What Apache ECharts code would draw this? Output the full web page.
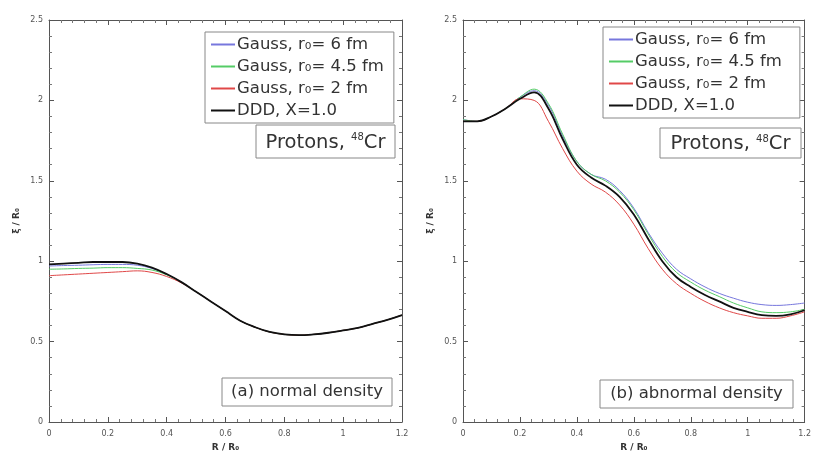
<!DOCTYPE html>
<html>
<head>
<meta charset="utf-8">
<script src="https://cdn.jsdelivr.net/npm/echarts@6/dist/echarts.min.js"></script>
<style>
  html, body { margin: 0; padding: 0; background: #fff; }
  #chart { width: 814px; height: 459px; }
</style>
</head>
<body>
<div id="chart"></div>
<script>
// x grid, R / R0
var xs = [0, 0.05, 0.1, 0.15, 0.2, 0.25, 0.3, 0.35, 0.4, 0.45, 0.5, 0.55, 0.6,
  0.65, 0.7, 0.75, 0.8, 0.85, 0.9, 0.95, 1.0, 1.05, 1.1, 1.15, 1.2]

// (a) normal density
var aGauss6 = [0.97, 0.973, 0.975, 0.978, 0.98, 0.98, 0.975, 0.955, 0.92, 0.87, 0.81, 0.75, 0.69,
  0.63, 0.59, 0.56, 0.545, 0.54, 0.545, 0.555, 0.57, 0.585, 0.61, 0.635, 0.665]
var aGauss45 = [0.95, 0.952, 0.955, 0.957, 0.96, 0.96, 0.955, 0.945, 0.915, 0.87, 0.81, 0.75, 0.69,
  0.63, 0.59, 0.56, 0.545, 0.54, 0.545, 0.555, 0.57, 0.585, 0.61, 0.635, 0.665]
var aGauss2 = [0.91, 0.915, 0.92, 0.925, 0.93, 0.935, 0.94, 0.93, 0.905, 0.865, 0.81, 0.75, 0.69,
  0.63, 0.59, 0.56, 0.545, 0.54, 0.545, 0.555, 0.57, 0.585, 0.61, 0.635, 0.665]
var aDDD = [0.98, 0.985, 0.99, 0.995, 0.995, 0.995, 0.985, 0.96, 0.92, 0.87, 0.81, 0.75, 0.69,
  0.63, 0.59, 0.56, 0.545, 0.54, 0.545, 0.555, 0.57, 0.585, 0.61, 0.635, 0.665]

// (b) abnormal density
var bGauss6 = [1.88, 1.87, 1.9, 1.95, 2.02, 2.06, 1.97, 1.78, 1.62, 1.54, 1.51, 1.44, 1.33,
  1.18, 1.05, 0.95, 0.89, 0.84, 0.8, 0.77, 0.745, 0.73, 0.725, 0.73, 0.74]
var bGauss45 = [1.88, 1.87, 1.9, 1.95, 2.02, 2.07, 1.98, 1.79, 1.62, 1.54, 1.5, 1.43, 1.32,
  1.17, 1.03, 0.93, 0.87, 0.82, 0.78, 0.74, 0.71, 0.685, 0.68, 0.685, 0.7]
var bGauss2 = [1.87, 1.87, 1.9, 1.95, 2.01, 2.0, 1.87, 1.7, 1.56, 1.48, 1.43, 1.35, 1.23,
  1.08, 0.95, 0.86, 0.8, 0.75, 0.71, 0.68, 0.66, 0.645, 0.645, 0.66, 0.685]
var bDDD = [1.87, 1.87, 1.9, 1.95, 2.01, 2.05, 1.95, 1.76, 1.6, 1.52, 1.47, 1.4, 1.29,
  1.14, 1.0, 0.9, 0.84, 0.79, 0.75, 0.71, 0.685, 0.665, 0.66, 0.67, 0.695]

var names = ['Gauss, r\u2080= 6 fm', 'Gauss, r\u2080= 4.5 fm', 'Gauss, r\u2080= 2 fm', 'DDD, X=1.0']
var colors = ['#7777dd', '#55cc66', '#e04848', '#111111']
var widths = [1, 1, 1, 1.8]
var xTicks = ['0', '0.2', '0.4', '0.6', '0.8', '1', '1.2']
var yTicks = ['0', '0.5', '1', '1.5', '2', '2.5']
var panelTitles = ['(a) normal density', '(b) abnormal density']

var font = 'DejaVu Sans'

function pairs(ys) {
  return xs.map(function (x, i) { return [x, ys[i]] })
}

function xAxisFor(idx, pos) {
  var isBottom = pos === 'bottom'
  return {
    type: 'value', gridIndex: idx, position: pos, min: 0, max: 1.2, interval: 0.2,
    name: isBottom ? 'R / R\u2080' : '', nameLocation: 'middle', nameGap: 20,
    nameTextStyle: { fontFamily: font, fontSize: 9, fontWeight: 'bold', color: '#333' },
    axisLine: { show: true, onZero: false, lineStyle: { color: '#555', width: 1 } },
    axisTick: { show: true, inside: true, length: 5, lineStyle: { color: '#555' } },
    minorTick: { show: true, splitNumber: 5, length: 3, lineStyle: { color: '#777' } },
    axisLabel: {
      show: isBottom, fontFamily: font, fontSize: 8, color: '#555', margin: 8,
      formatter: function (v) { return xTicks[Math.round(v / 0.2)] }
    },
    splitLine: { show: false }
  }
}

function yAxisFor(idx, pos) {
  var isLeft = pos === 'left'
  return {
    type: 'value', gridIndex: idx, position: pos, min: 0, max: 2.5, interval: 0.5,
    name: isLeft ? '\u03be / R\u2080' : '', nameLocation: 'middle', nameGap: 28,
    nameTextStyle: { fontFamily: font, fontSize: 9, fontWeight: 'bold', color: '#333' },
    axisLine: { show: true, onZero: false, lineStyle: { color: '#555', width: 1 } },
    axisTick: { show: true, inside: true, length: 5, lineStyle: { color: '#555' } },
    minorTick: { show: true, splitNumber: 5, length: 3, lineStyle: { color: '#777' } },
    axisLabel: {
      show: isLeft, fontFamily: font, fontSize: 8, color: '#555', margin: 6,
      formatter: function (v) { return yTicks[Math.round(v / 0.5)] }
    },
    splitLine: { show: false }
  }
}

var panels = [[aGauss6, aGauss45, aGauss2, aDDD], [bGauss6, bGauss45, bGauss2, bDDD]]
var series = []
panels.forEach(function (set, p) {
  set.forEach(function (ys, k) {
    series.push({
      name: names[k], type: 'line', xAxisIndex: p * 2, yAxisIndex: p * 2,
      data: pairs(ys), smooth: 0.4, showSymbol: false, z: k === 3 ? 5 : 3,
      lineStyle: { color: colors[k], width: widths[k] },
      itemStyle: { color: colors[k] }
    })
  })
})

function legendFor(left, top, padRight) {
  return {
    data: names, orient: 'vertical', left: left, top: top,
    backgroundColor: '#fff', borderColor: '#888', borderWidth: 1,
    padding: [3, padRight, 3, 6], itemGap: 3, itemWidth: 24, itemHeight: 2,
    icon: 'rect', selectedMode: false,
    textStyle: { fontFamily: font, fontSize: 16.5, lineHeight: 19, color: '#333', padding: [0, 0, 0, -3] }
  }
}

function box(x, y, w, h, label, size) {
  return {
    type: 'group', x: x, y: y, z: 100,
    children: [
      { type: 'rect', shape: { x: 0, y: 0, width: w, height: h },
        style: { fill: '#fff', stroke: '#888', lineWidth: 1 } },
      { type: 'text', x: w / 2, y: h / 2,
        style: { text: label, fontFamily: font, fontSize: size, fill: '#333',
          align: 'center', verticalAlign: 'middle' } }
    ]
  }
}

function protons(x, y, w, h) {
  return {
    type: 'group', x: x, y: y, z: 100,
    children: [
      { type: 'rect', shape: { x: 0, y: 0, width: w, height: h },
        style: { fill: '#fff', stroke: '#888', lineWidth: 1 } },
      { type: 'text', x: w / 2, y: h / 2 + 1,
        style: { text: 'Protons, {s|48}Cr', fontFamily: font, fontSize: 19.5, fill: '#333',
          align: 'center', verticalAlign: 'middle',
          rich: { s: { fontSize: 10, fontFamily: font, fill: '#333', verticalAlign: 'top', padding: [0, 0, 9, 0] } } } }
    ]
  }
}

var chart = echarts.init(document.getElementById('chart'))
chart.setOption({
  backgroundColor: '#fff',
  animation: false,
  grid: [
    { left: 49, right: 412, top: 20, bottom: 37 },
    { left: 463, right: 8, top: 20, bottom: 37 }
  ],
  xAxis: [xAxisFor(0, 'bottom'), xAxisFor(0, 'top'), xAxisFor(1, 'bottom'), xAxisFor(1, 'top')],
  yAxis: [yAxisFor(0, 'left'), yAxisFor(0, 'right'), yAxisFor(1, 'left'), yAxisFor(1, 'right')],
  legend: [legendFor(205, 32, 10), legendFor(603, 27, 18)],
  graphic: [
    protons(256, 125, 139, 33),
    protons(660, 128, 141, 30),
    box(222, 378, 170, 28, panelTitles[0], 16.5),
    box(600, 380, 193, 28, panelTitles[1], 16.5)
  ],
  series: series
})
</script>
</body>
</html>
